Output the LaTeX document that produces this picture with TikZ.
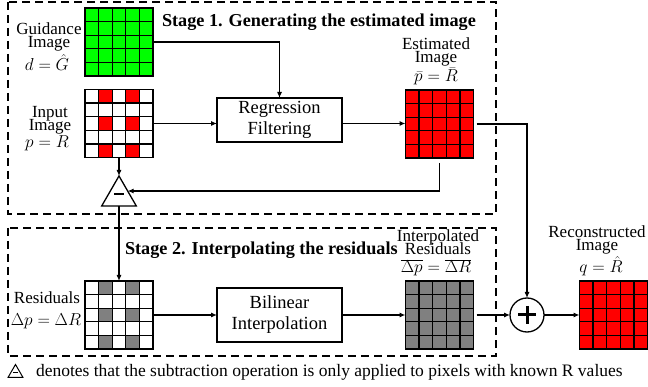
\documentclass[tikz,border=0pt]{standalone}
\usepackage{fontspec}
\setmainfont{Liberation Serif}
\usetikzlibrary{arrows.meta,calc,shapes.geometric}
\definecolor{pixgreen}{RGB}{0,255,0}
\definecolor{pixred}{RGB}{255,0,0}
\definecolor{pixgray}{RGB}{128,128,128}
\newcommand\pixgrid[1]{%
  \foreach \i in {1,...,4}{%
    \draw[line width=1.3pt] ($(#1.north west)!\i/5!(#1.north east)$) -- ($(#1.south west)!\i/5!(#1.south east)$);
    \draw[line width=1.3pt] ($(#1.north west)!\i/5!(#1.south west)$) -- ($(#1.north east)!\i/5!(#1.south east)$);
  }%
  \draw[line width=1.3pt] (#1.north west) rectangle (#1.south east);
}
\newcommand\pixcell[4]{%
  \fill[#4] ($(#1.north west)+({(#2-1)*13.6},{(#3-1)*13.6})$) rectangle +(13.6,13.6);
}
\newcommand\sparse[2]{%
  \foreach \rr in {1,3,5}{\foreach \cc in {2,4}{\pixcell{#1}{\cc}{\rr}{#2}}}%
}
\begin{document}
\begin{tikzpicture}[x=1pt,y=-1pt,
  every node/.style={inner sep=0pt, outer sep=0pt},
  lbl/.style={anchor=north, align=center, font=\fontsize{17}{13}\selectfont,
    execute at begin node={\lineskiplimit=-30pt\relax}},
  fml/.style={anchor=base, font=\fontsize{17}{17}\selectfont},
  pix/.style={draw, line width=1.3pt, minimum width=68pt, minimum height=68pt},
  proc/.style={draw, line width=1.2pt, minimum width=125pt, align=center, font=\fontsize{18.5}{21}\selectfont},
  arr/.style={line width=1.1pt, -{Latex[length=6pt,width=5pt]}},
  stage/.style={dash pattern=on 8pt off 5pt, line width=1.3pt},
  title/.style={anchor=base west, font=\fontsize{18.2}{18}\selectfont\bfseries},
  tribox/.style={draw, regular polygon, regular polygon sides=3},
]
\useasboundingbox (0,0) rectangle (648,387);

% stage frames
\draw[stage] (8,2) rectangle (496,214);
\draw[stage] (8,228) rectangle (496,356);
\node[title] (t1) at (162,27) {Stage 1. Generating the estimated image};
\node[title] (t2) at (125,255) {Stage 2. Interpolating the residuals};

% pixel grids
\node[pix, fill=pixgreen] (guid) at (119,42) {};
\pixgrid{guid}
\node[pix, fill=white] (inp) at (119,123.5) {};
\sparse{inp}{pixred}
\pixgrid{inp}
\node[pix, fill=pixred] (est) at (439.5,124) {};
\pixgrid{est}
\node[pix, fill=white] (res) at (119,315) {};
\sparse{res}{pixgray}
\pixgrid{res}
\node[pix, fill=pixgray] (itp) at (439.5,315) {};
\pixgrid{itp}
\node[pix, fill=pixred] (rec) at (613.5,315) {};
\pixgrid{rec}

% labels (first baseline = y + 12)
\node[lbl] (gl) at (49,23) {\rule{0pt}{12pt}Guidance\\Image};
\node[fml] (gf) at (47,71) {$d=\hat{G}$};
\node[lbl] (il) at (50,106) {\rule{0pt}{12pt}Input\\Image};
\node[fml] (if) at (47,148) {$p=R$};
\node[lbl] (el) at (436,38) {\rule{0pt}{12pt}Estimated\\Image};
\node[fml] (ef) at (436,82) {$\bar{p}=\bar{R}$};
\node[lbl] (rl) at (47,292) {\rule{0pt}{12pt}Residuals};
\node[fml] (rf) at (46,326) {$\Delta p=\Delta R$};
\node[lbl] (nl) at (438,230) {\rule{0pt}{12pt}Interpolated\\Residuals};
\node[fml] (nf) at (436,273) {$\overline{\Delta p}=\overline{\Delta R}$};
\node[lbl] (cl) at (597,226) {\rule{0pt}{12pt}Reconstructed\\Image};
\node[fml] (cf) at (601,273) {$q=\hat{R}$};

% processing boxes
\node[proc, minimum height=44pt] (reg) at (279.5,120) {Regression\\Filtering};
\node[proc, minimum height=54pt] (bil) at (279.5,315) {Bilinear\\Interpolation};

% subtraction triangle
\node[tribox, minimum size=40pt, line width=1.3pt] (tri) at (119,196) {};
\draw[line width=2.6pt] ($(tri.center)+(-5,-2)$) -- ($(tri.center)+(5,-2)$);
\coordinate (tris) at ($(tri.corner 1)!0.5!(tri.corner 3)$);

% sum
\node[draw, circle, minimum size=34pt, line width=1.3pt] (sum) at (527,315) {};
\draw[line width=3pt] ($(sum.center)+(-9,0)$) -- ($(sum.center)+(9,0)$);
\draw[line width=3pt] ($(sum.center)+(0,-9)$) -- ($(sum.center)+(0,9)$);

% connectors
\draw[arr] (guid.east) -| (reg.north);
\draw[arr] (inp.east) -- (inp.east -| reg.west);
\draw[arr] (inp.east -| reg.east) -- (inp.east -| est.west);
\draw[arr] ([xshift=3pt]est.east) -| (sum.north);
\draw[arr] ([yshift=-5pt]est.south) |- (tris);
\draw[arr] (inp.south) -- (tri.corner 1);
\draw[arr] (tri.south) -- (res.north);
\draw[arr] (res.east) -- (bil.west);
\draw[arr] (bil.east) -- (itp.west);
\draw[arr] ([xshift=3pt]itp.east) -- (sum.west);
\draw[arr] (sum.east) -- (rec.west);

% footnote
\node[tribox, minimum size=17pt, line width=1pt] (ftri) at (15.5,373) {};
\draw[line width=1.6pt] ($(ftri.center)+(-2.5,-0.5)$) -- ($(ftri.center)+(2.5,-0.5)$);
\node[anchor=base west, font=\fontsize{17.5}{17.5}\selectfont] (note) at (36,377) {denotes that the subtraction operation is only applied to pixels with known R values};
\end{tikzpicture}
\end{document}
